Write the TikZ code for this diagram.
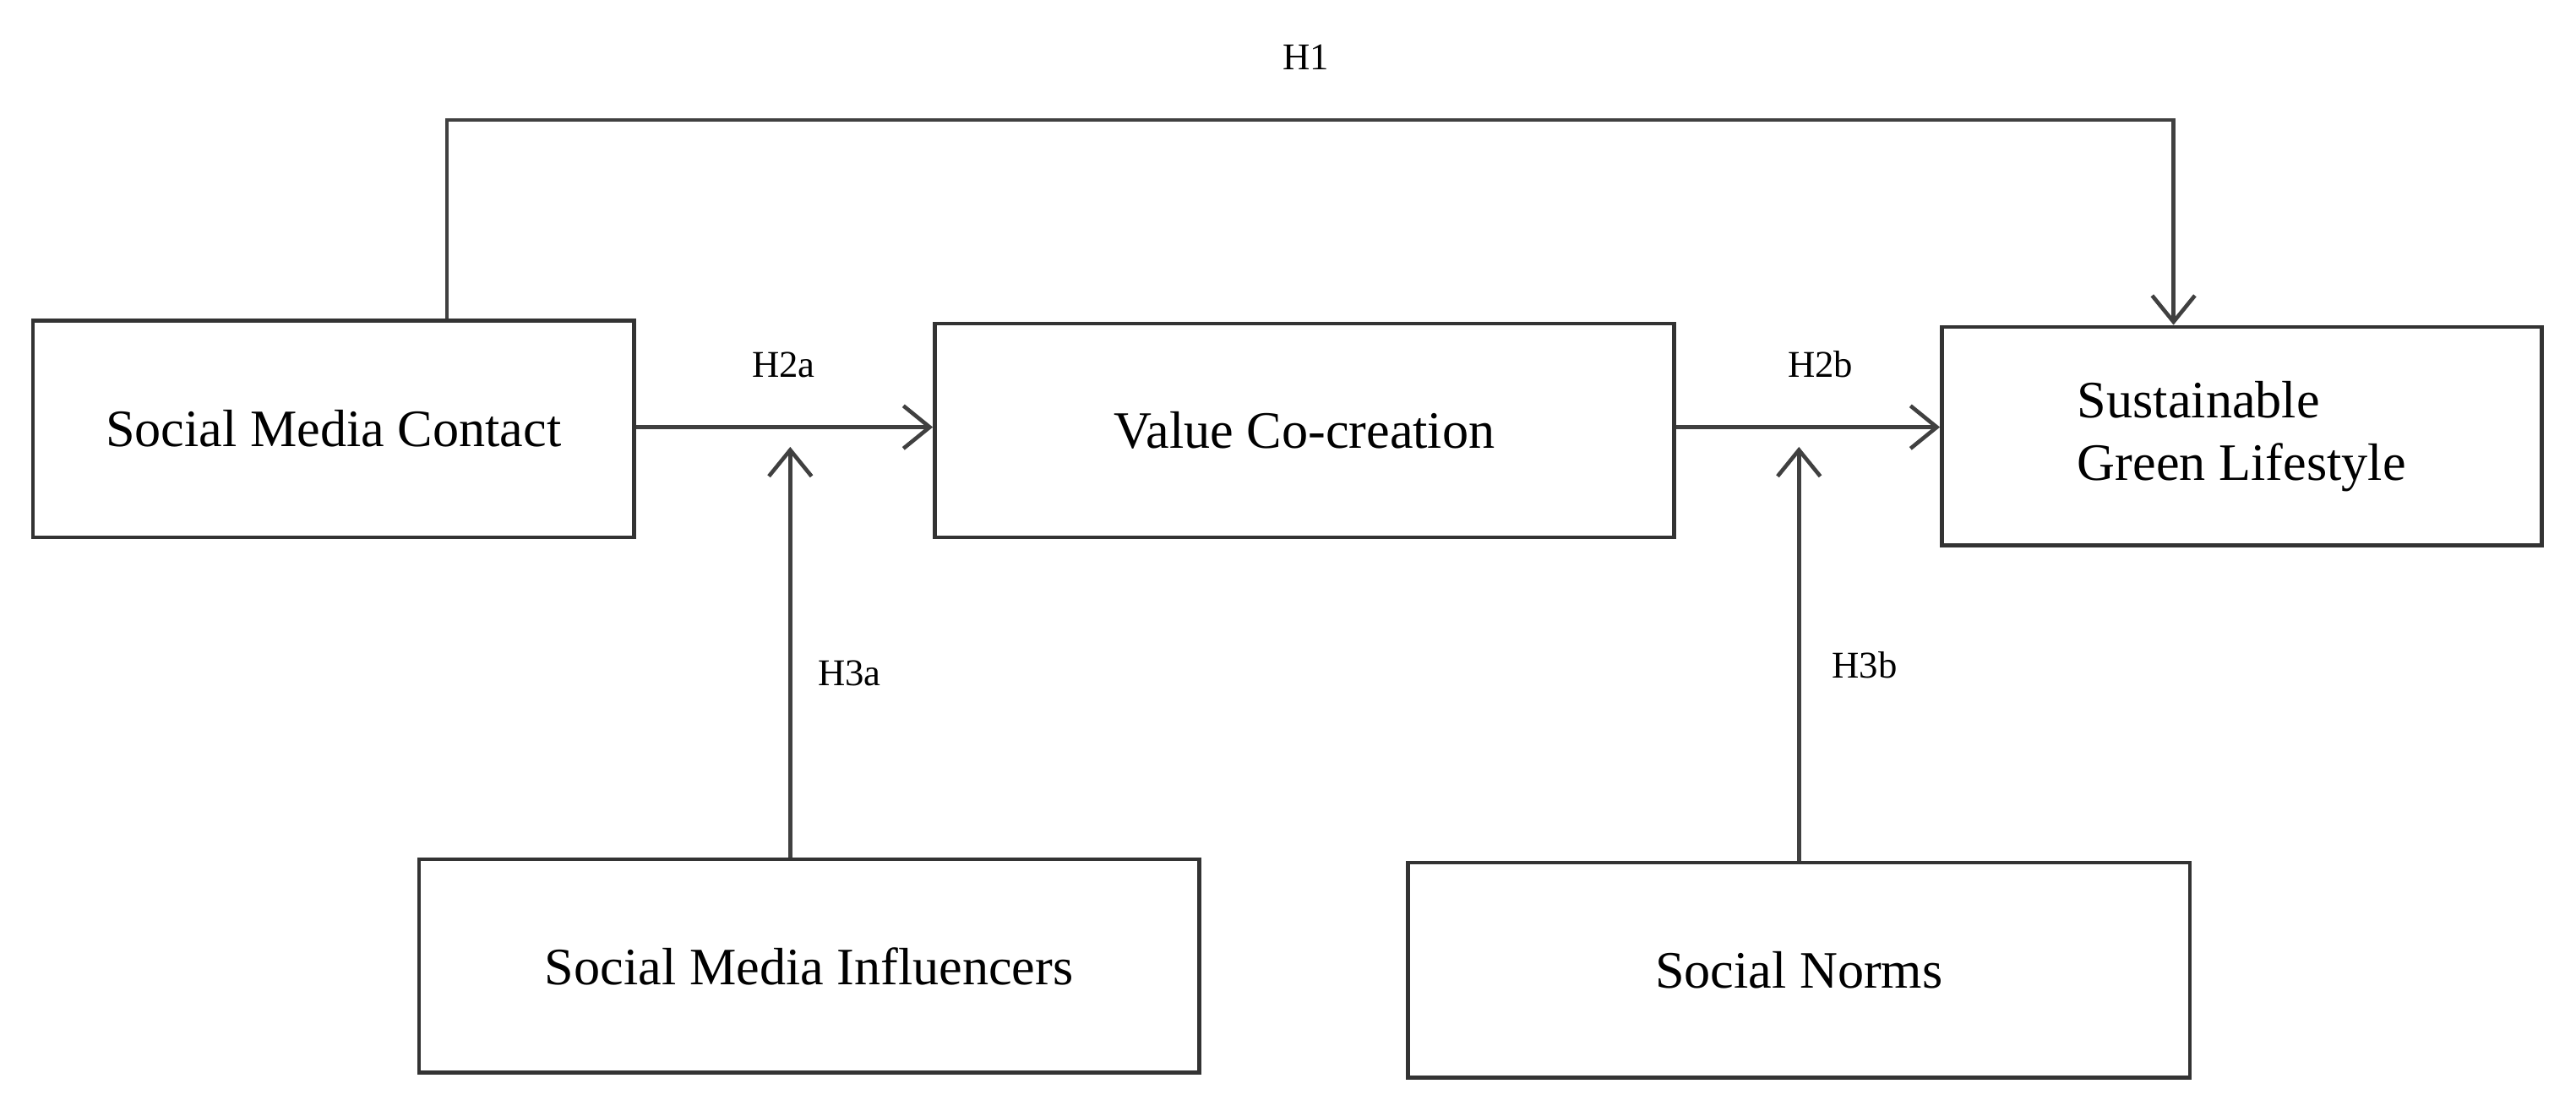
\documentclass[tikz,border=0pt]{standalone}
\usepackage{fontspec}
\setmainfont{Liberation Serif}
\usetikzlibrary{arrows.meta}
\begin{document}
\begin{tikzpicture}[x=0.5pt,y=-0.5pt,
  box/.style={draw=black!80,line width=1.2pt,inner sep=0pt,align=left,font=\fontsize{16}{19}\selectfont},
  conn/.style={draw=black!75,line width=1.2pt,-{Straight Barb[length=8pt,width=13pt,line width=1.2pt]}},
  lab/.style={font=\fontsize{11.5}{13}\selectfont}]
\useasboundingbox (0,0) rectangle (1568,676);
\node[box,minimum width=183pt,minimum height=66pt] (smc) at (203,261) {Social Media Contact};
\node[box,minimum width=225pt,minimum height=65pt] (vcc) at (794,262) {Value Co-creation};
\node[box,minimum width=182.5pt,minimum height=66.5pt] (sgl) at (1364.5,265.5) {Sustainable\\Green Lifestyle};
\node[box,minimum width=237.5pt,minimum height=65pt] (smi) at (492.5,588) {Social Media Influencers};
\node[box,minimum width=238pt,minimum height=65.5pt] (sn) at (1095,590.5) {Social Norms};
\coordinate (t1) at (272,73);
\coordinate (t2) at (1323,73);
\coordinate (m1) at (481,260);
\coordinate (m2) at (1095,260);
\draw[conn] (smc.north -| t1) -- (t1) -- (t2) -- (t2 |- sgl.north);
\draw[conn] (smc.east |- m1) -- (vcc.west |- m1);
\draw[conn] (vcc.east |- m2) -- (sgl.west |- m2);
\draw[conn] (smi.north -| m1) -- ([yshift=-6pt]m1);
\draw[conn] (sn.north -| m2) -- ([yshift=-6pt]m2);
\node[lab] (h1) at (795,35) {H1};
\node[lab] (h2a) at (477,222) {H2a};
\node[lab] (h2b) at (1108,222) {H2b};
\node[lab] (h3a) at (517,410) {H3a};
\node[lab] (h3b) at (1135,405) {H3b};
\end{tikzpicture}
\end{document}
